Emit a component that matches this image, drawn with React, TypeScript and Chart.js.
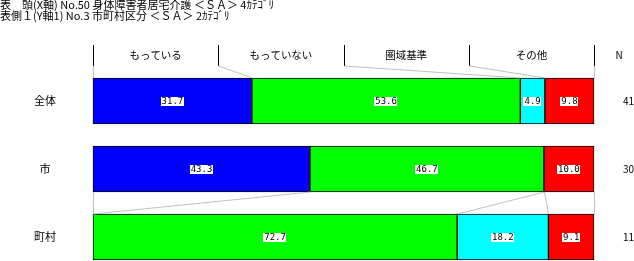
import React, { useEffect, useRef } from 'react';
import { Chart, registerables } from 'chart.js';
Chart.register(...registerables);

const titleLines = [
  '表　頭(X軸) No.50 身体障害者居宅介護 ＜ＳＡ＞ 4ｶﾃｺﾞﾘ',
  '表側１(Y軸1) No.3 市町村区分 ＜ＳＡ＞ 2ｶﾃｺﾞﾘ',
];
const categories = ['全体', '市', '町村'];
const nValues = ['41', '30', '11'];
const nHeader = 'N';
const seriesNames = ['もっている', 'もっていない', '圏域基準', 'その他'];
const motteiru = [31.7, 43.3, 0];
const motteinai = [53.6, 46.7, 72.7];
const keniki = [4.9, 0, 18.2];
const sonota = [9.8, 10.0, 9.1];
const seriesValues = [motteiru, motteinai, keniki, sonota];
const seriesColors = ['#0000FF', '#00FF00', '#00FFFF', '#FF0000'];
// pairs of rows joined by grey guide lines (-1 = header)
const connectorPairs = [[-1, 0], [1, 2]];

const JP = '"Noto Sans CJK JP", sans-serif';
const MONO = '"DejaVu Sans Mono", monospace';

function cumulative(row: number): number[] {
  const out = [0];
  let acc = 0;
  for (const s of seriesValues) {
    acc += s[row];
    out.push(Math.min(acc, 100));
  }
  return out;
}

const overlay = {
  id: 'overlay',
  afterDatasetsDraw(chart: any) {
    const ctx = chart.ctx as CanvasRenderingContext2D;
    const xs = chart.scales.x;
    const ys = chart.scales.y;
    const px = (v: number) => xs.getPixelForValue(v);
    const el0 = chart.getDatasetMeta(0).data[0];
    const barH = el0.height;
    const rowTop = (r: number) => ys.getPixelForValue(r) - barH / 2;
    const rowBot = (r: number) => ys.getPixelForValue(r) + barH / 2;
    const headerTop = rowTop(0) - 33;
    const headerBot = rowTop(0) - 12;

    ctx.save();
    // title
    ctx.fillStyle = '#000';
    ctx.font = '11px ' + JP;
    ctx.textAlign = 'left';
    ctx.textBaseline = 'middle';
    titleLines.forEach((t, i) => ctx.fillText(t, 0, 5 + i * 11));

    // header dividers
    ctx.strokeStyle = '#000';
    ctx.lineWidth = 1;
    const n = seriesNames.length;
    for (let i = 0; i <= n; i++) {
      const x = Math.round(px((100 * i) / n)) + 0.5;
      ctx.beginPath();
      ctx.moveTo(x, headerTop);
      ctx.lineTo(x, headerBot);
      ctx.stroke();
    }
    ctx.font = '10.5px ' + JP;
    ctx.textAlign = 'center';
    const headY = (headerTop + headerBot) / 2;
    seriesNames.forEach((s, i) => {
      ctx.fillText(s, px((100 * (i + 0.5)) / n), headY);
    });
    ctx.font = '10px ' + JP;
    ctx.fillText(nHeader, 619, headY);

    // connectors
    ctx.strokeStyle = '#C0C0C0';
    for (const [a, b] of connectorPairs) {
      const fromX = a < 0 ? Array.from({ length: n + 1 }, (_, i) => (100 * i) / n) : cumulative(a);
      const toX = cumulative(b);
      const y1 = a < 0 ? headerBot : rowBot(a);
      const y2 = rowTop(b);
      for (let i = 0; i <= n; i++) {
        ctx.beginPath();
        ctx.moveTo(Math.round(px(fromX[i])) + 0.5, y1);
        ctx.lineTo(Math.round(px(toX[i])) + 0.5, y2);
        ctx.stroke();
      }
    }

    // value labels
    ctx.font = '9px ' + MONO;
    ctx.textBaseline = 'middle';
    chart.data.datasets.forEach((ds: any, di: number) => {
      const meta = chart.getDatasetMeta(di);
      meta.data.forEach((el: any, i: number) => {
        const v = ds.data[i];
        if (!v) return;
        const t = v.toFixed(1);
        const cx = (el.x + el.base) / 2;
        const cy = el.y;
        const w = ctx.measureText(t).width;
        ctx.fillStyle = '#FFF';
        ctx.fillRect(Math.round(cx - w / 2 - 1), Math.round(cy - 4.5), Math.round(w + 1.5), 9);
        ctx.fillStyle = '#000';
        ctx.textAlign = 'center';
        ctx.fillText(t, cx, cy + 0.5);
      });
    });
    ctx.restore();
  },
};

export default function App() {
  const ref = useRef<HTMLCanvasElement>(null);
  useEffect(() => {
    if (!ref.current) return;
    const chart = new Chart(ref.current, {
      type: 'bar',
      data: {
        labels: categories,
        datasets: seriesValues.map((vals, i) => ({
          label: seriesNames[i],
          data: vals,
          backgroundColor: seriesColors[i],
          borderColor: '#000',
          borderWidth: 1,
          borderSkipped: false,
          barThickness: 46,
          clip: false,
        })),
      },
      options: {
        indexAxis: 'y',
        animation: false,
        responsive: false,
        maintainAspectRatio: false,
        layout: { padding: { top: 101, bottom: 24, left: 0, right: 0 } },
        plugins: { legend: { display: false }, tooltip: { enabled: false } },
        scales: {
          x: { stacked: true, min: 0, max: 100, display: false },
          y: {
            type: 'category',
            stacked: true,
            offset: false,
            position: 'left',
            grid: { display: true, drawOnChartArea: false, drawTicks: true, tickLength: 37, tickColor: 'rgba(0,0,0,0)' },
            border: { display: false },
            ticks: { padding: 0, crossAlign: 'center', color: '#000', font: { family: JP, size: 11 } },
            afterFit: (s: any) => { s.width = 93; },
          },
          y2: {
            type: 'category',
            labels: nValues,
            offset: false,
            position: 'right',
            grid: { display: true, drawOnChartArea: false, drawTicks: true, tickLength: 29, tickColor: 'rgba(0,0,0,0)' },
            border: { display: false },
            ticks: { padding: 0, crossAlign: 'near', color: '#000', font: { family: JP, size: 10 } },
            afterFit: (s: any) => { s.width = 40; },
          },
        },
      } as any,
      plugins: [overlay],
    });
    return () => chart.destroy();
  }, []);
  return (
    <div style={{ position: 'absolute', left: 0, top: 0, width: 634, height: 261, background: '#fff' }}>
      <canvas ref={ref} width={634} height={261} style={{ width: 634, height: 261, display: 'block' }} />
    </div>
  );
}
